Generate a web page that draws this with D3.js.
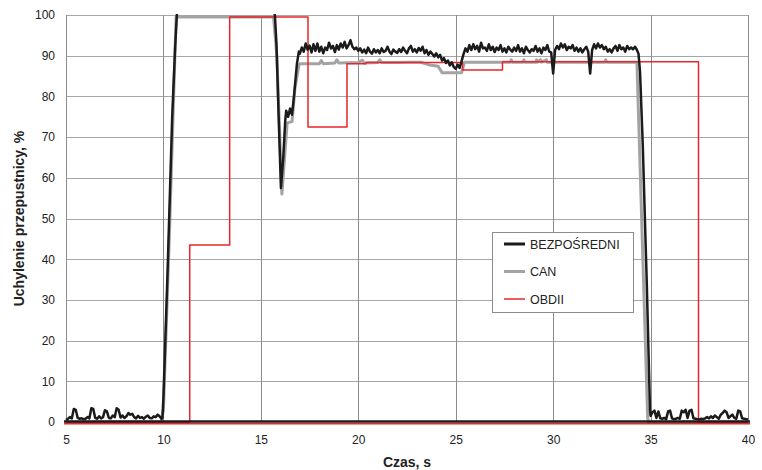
<!DOCTYPE html>
<html>
<head>
<meta charset="utf-8">
<script src="https://cdn.jsdelivr.net/npm/d3@7"></script>
<style>
    body { margin: 0; background: #fff; }
    svg { font-family: "Liberation Sans", Arial, sans-serif; }
</style>
</head>
<body>
<svg id="chart" width="762" height="470"></svg>
<script>
//axis ticks
var xTicks = [5, 10, 15, 20, 25, 30, 35, 40];
var yTicks = [0, 10, 20, 30, 40, 50, 60, 70, 80, 90, 100];

//BEZPOSREDNI - idle before the throttle opens (every 0.1 s from 5.0 s)
var bezIdleStart = 5.0;
var bezIdle = [
    0.5, 0.8, 1.2, 0.9, 3.2, 3.0, 1.0, 0.8, 0.9, 0.7,
    0.8, 1.2, 0.9, 3.4, 3.2, 1.0, 0.8, 1.4, 0.9, 1.2,
    2.9, 2.6, 1.0, 0.9, 1.6, 1.2, 3.4, 3.0, 1.1, 1.6,
    1.0, 1.4, 2.2, 1.8, 2.0, 1.2, 0.9, 1.5, 1.0, 1.2,
    0.8, 1.3, 1.6, 1.0, 0.9, 1.4, 1.2, 1.8, 1.4, 0.8
];

//BEZPOSREDNI - opening, dip and recovery [s, %]
var bezRise = [
    [9.95, 1.0], [10.0, 6], [10.2, 35], [10.45, 75], [10.6, 92], [10.7, 101],
    [15.6, 102], [15.72, 100], [15.8, 93], [15.92, 74], [16.03, 57.5],
    [16.15, 65], [16.25, 74], [16.3, 76.5], [16.4, 75], [16.5, 77],
    [16.6, 75.5], [16.7, 80], [16.85, 88], [16.95, 91]
];

//BEZPOSREDNI - steady part (every 0.1 s from 17.0 s)
var bezRunStart = 17.0;
var bezRun = [
    90.5, 92.0, 91.0, 93.0, 91.5, 92.5, 90.8, 92.8, 91.2, 93.0,
    91.0, 92.2, 90.6, 92.0, 91.4, 93.2, 91.8, 92.4, 90.9, 92.6,
    91.5, 93.0, 92.0, 93.4, 91.8, 92.6, 93.8, 92.2, 91.6, 92.0,
    91.2, 91.8, 90.8, 91.5, 90.6, 92.0, 91.0, 90.5, 91.6, 90.8,
    91.4, 90.6, 91.8, 90.9, 91.2, 92.2, 91.0, 90.4, 91.5, 91.0,
    90.7, 91.6, 90.9, 92.0, 91.2, 90.6, 91.8, 92.4, 91.0, 91.6,
    90.8, 91.9, 91.2, 92.2, 90.6, 91.4, 90.2, 91.0, 90.4, 89.8,
    90.6, 89.6, 90.2, 88.8, 89.4, 88.2, 88.8, 87.6, 88.4, 87.2,
    86.8, 87.8, 87.0, 88.6, 90.4, 91.8, 91.0, 92.6, 91.4, 92.8,
    91.6, 92.4, 91.0, 93.2, 91.8, 92.0, 91.2, 92.8, 91.4, 92.2,
    90.9, 92.0, 91.4, 92.6, 91.0, 91.8, 90.8, 92.2, 91.5, 91.0,
    92.0, 91.2, 92.6, 91.0, 91.8, 90.6, 92.2, 91.4, 90.8, 91.6,
    91.2, 92.4, 91.0, 91.8, 90.6, 92.0, 91.4, 92.6, 91.0, 90.8,
    85.6, 91.4, 92.4, 91.6, 93.0, 92.0, 92.8, 91.4, 92.2, 91.8,
    92.6, 91.2, 92.0, 91.0, 91.8, 90.8, 91.6, 92.2, 91.0, 85.6,
    91.4, 92.8, 91.8, 93.0, 92.0, 92.6, 91.6, 92.2, 91.0, 91.6,
    90.8, 91.8, 92.4, 91.2, 92.6, 91.6, 92.0, 91.0, 92.4, 91.6,
    92.0, 91.6, 92.2, 91.4
];

//BEZPOSREDNI - closing [s, %]
var bezFall = [
    [34.38, 90.5], [34.46, 86], [34.6, 68], [34.8, 35], [34.97, 3], [35.0, 1.5]
];

//BEZPOSREDNI - idle after closing (every 0.1 s from 35.1 s)
var bezTailStart = 35.1;
var bezTail = [
    2.4, 2.8, 1.0, 2.6, 0.9, 0.8, 1.0, 0.7, 2.6,
    2.8, 0.9, 0.7, 0.8, 1.0, 0.8, 2.8, 2.4, 3.0, 1.0,
    2.8, 3.0, 0.9, 0.8, 0.7, 0.6, 0.8, 0.7, 0.9, 1.2,
    0.9, 1.4, 1.0, 1.6, 1.2, 0.8, 1.8, 2.2, 2.8, 2.4,
    1.0, 1.4, 1.8, 1.0, 0.8, 2.8, 2.6, 0.9, 0.8, 0.7,
    0.6
];

//CAN [s, %]
var canPoints = [
    [5, 0], [9.9, 0], [10.0, 3], [10.3, 45], [10.65, 99.5], [15.65, 99.5],
    [15.82, 90], [16.08, 56], [16.2, 64], [16.35, 73.5], [16.6, 73.8],
    [16.75, 82], [16.95, 87.6], [17.0, 88], [18.0, 88], [18.1, 88.8],
    [18.2, 88], [18.8, 88.2], [18.9, 89], [19.0, 88.2], [20.0, 88.3],
    [20.2, 88.9], [20.3, 88.2], [21.0, 88.3], [21.1, 89], [21.2, 88.3],
    [22.0, 88.3], [22.5, 88.4], [23.2, 88.4], [23.6, 87.8], [24.1, 87.4],
    [24.3, 85.8], [25.3, 85.8], [25.45, 88.4], [27.8, 88.4], [27.85, 89],
    [27.9, 88.4], [28.45, 88.4], [28.5, 89], [28.55, 88.4], [29.1, 88.4],
    [29.15, 89], [29.2, 88.4], [29.35, 89], [29.4, 88.4], [29.65, 89],
    [29.7, 88.4], [32.65, 88.4], [32.7, 89], [32.75, 88.4], [34.3, 88.4],
    [34.85, 1], [34.9, 0], [40, 0]
];

//OBDII [s, %]
var obdPoints = [
    [5, 0], [11.35, 0], [11.35, 43.5], [13.4, 43.5], [13.4, 99.5],
    [17.42, 99.5], [17.42, 72.5], [19.42, 72.5], [19.42, 88], [20.4, 88],
    [20.4, 88.3], [25.35, 88.3], [25.35, 86.5], [27.4, 86.5], [27.4, 88.5],
    [37.46, 88.5], [37.46, 0], [40, 0]
];

var seriesNames = ["BEZPOŚREDNI", "CAN", "OBDII"];
var seriesColors = ["#1b1b1b", "#a3a3a3", "#e8262b"];
var seriesWidths = [2.5, 3, 1.5];

//build the sampled segments into [s, %] pairs
function sampled(start, values) {
    return values.map(function(v, i) { return [Math.round((start + i * 0.1) * 100) / 100, v]; });
}
var bezPoints = [].concat(
    sampled(bezIdleStart, bezIdle), bezRise,
    sampled(bezRunStart, bezRun), bezFall,
    sampled(bezTailStart, bezTail)
);

var svg = d3.select("#chart");
var margin = {top: 15, right: 14, bottom: 48, left: 66};
var width = 762 - margin.left - margin.right;
var height = 470 - margin.top - margin.bottom;

var x = d3.scaleLinear().domain([5, 40]).range([0, width]);
var y = d3.scaleLinear().domain([0, 100]).range([height, 0]);

var g = svg.append("g")
    .attr("transform", "translate(" + margin.left + "," + margin.top + ")");

//gridlines
g.selectAll(".hgrid")
    .data(yTicks.filter(function(d) { return d > 0; }))
    .enter().append("line")
    .attr("x1", 0).attr("x2", width)
    .attr("y1", function(d) { return Math.round(y(d)) + 0.5; })
    .attr("y2", function(d) { return Math.round(y(d)) + 0.5; })
    .attr("stroke", "#a6a6a6");

g.selectAll(".vgrid")
    .data(xTicks)
    .enter().append("line")
    .attr("x1", function(d) { return Math.round(x(d)) + 0.5; })
    .attr("x2", function(d) { return Math.round(x(d)) + 0.5; })
    .attr("y1", 0).attr("y2", height)
    .attr("stroke", "#8c8c8c");

//clip the lines to the plot area
svg.append("defs").append("clipPath").attr("id", "plotclip")
    .append("rect").attr("x", -2).attr("y", -1).attr("width", width + 4).attr("height", height + 2);

var line = d3.line()
    .x(function(d) { return x(d[0]); })
    .y(function(d) { return y(d[1]); });

var lines = g.append("g").attr("clip-path", "url(#plotclip)");

//draw order: CAN, OBDII, BEZPOSREDNI on top
[[canPoints, 1], [obdPoints, 2], [bezPoints, 0]].forEach(function(s) {
    lines.append("path")
        .datum(s[0])
        .attr("fill", "none")
        .attr("stroke", seriesColors[s[1]])
        .attr("stroke-width", seriesWidths[s[1]])
        .attr("stroke-linejoin", "round")
        .attr("d", line);
});

//baseline: red under the black axis line
g.append("line")
    .attr("x1", -2).attr("x2", width + 2)
    .attr("y1", height + 1.8).attr("y2", height + 1.8)
    .attr("stroke", seriesColors[2]).attr("stroke-width", 1.5);
g.append("line")
    .attr("x1", -2).attr("x2", width + 2)
    .attr("y1", height - 0.5).attr("y2", height - 0.5)
    .attr("stroke", "#1b1b1b").attr("stroke-width", 2.5);

//axes
var xAxis = d3.axisBottom(x).tickValues(xTicks).tickSize(0).tickPadding(13);
var yAxis = d3.axisLeft(y).tickValues(yTicks).tickSize(0).tickPadding(11);

var xg = g.append("g").attr("transform", "translate(0," + height + ")").call(xAxis);
var yg = g.append("g").call(yAxis);
[xg, yg].forEach(function(a) {
    a.select(".domain").remove();
    a.selectAll("text")
        .attr("font-family", "Liberation Sans, Arial, sans-serif")
        .attr("font-size", 12)
        .attr("fill", "#222");
});

//axis titles
svg.append("text")
    .attr("x", margin.left + width / 2)
    .attr("y", 467)
    .attr("text-anchor", "middle")
    .attr("font-size", 14)
    .attr("font-weight", "bold")
    .attr("fill", "#222")
    .text("Czas, s");

svg.append("text")
    .attr("transform", "translate(24," + (margin.top + height / 2) + ") rotate(-90)")
    .attr("text-anchor", "middle")
    .attr("font-size", 14)
    .attr("font-weight", "bold")
    .attr("fill", "#222")
    .text("Uchylenie przepustnicy, %");

//legend
var legend = svg.append("g").attr("transform", "translate(492,232)");
legend.append("rect")
    .attr("x", 0.5).attr("y", 0.5)
    .attr("width", 141).attr("height", 80)
    .attr("fill", "#fff")
    .attr("stroke", "#8c8c8c");

seriesNames.forEach(function(name, i) {
    var ly = 12 + i * 27.5;
    legend.append("line")
        .attr("x1", 12).attr("x2", 33)
        .attr("y1", ly).attr("y2", ly)
        .attr("stroke", seriesColors[i])
        .attr("stroke-width", i === 2 ? 1.5 : 3);
    legend.append("text")
        .attr("x", 38).attr("y", ly + 4.5)
        .attr("font-size", 12.5)
        .attr("fill", "#222")
        .text(name);
});
</script>
</body>
</html>
